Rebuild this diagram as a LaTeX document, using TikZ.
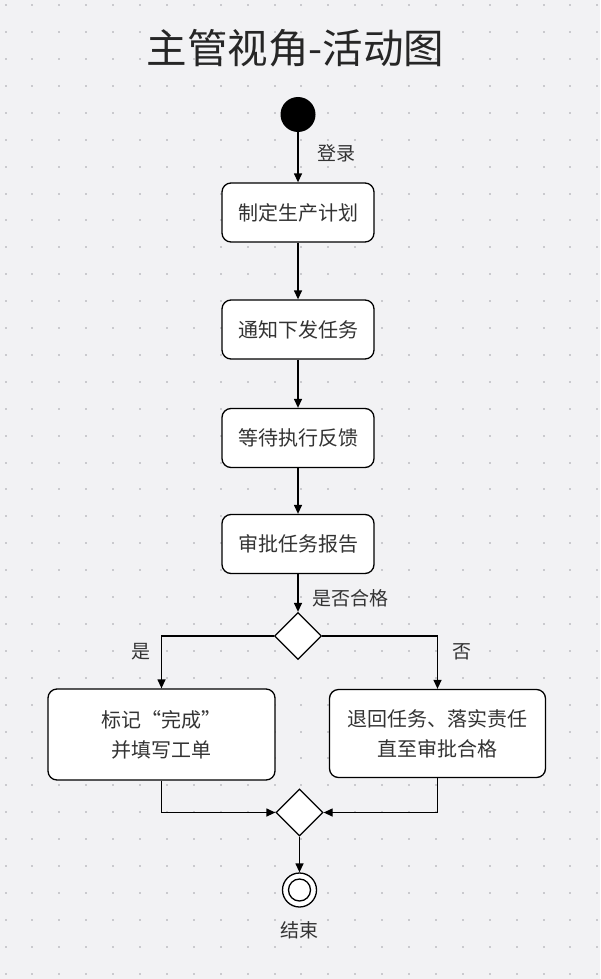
\documentclass[tikz,border=0pt]{standalone}
\usepackage{fontspec}
\setmainfont{Noto Sans CJK SC}
\usetikzlibrary{arrows.meta}
\usetikzlibrary{shapes.geometric}
\definecolor{bgray}{HTML}{F2F2F4}
\definecolor{dotgray}{HTML}{CACACE}
\definecolor{txt}{HTML}{333333}
\tikzset{actbox/.style = {draw, rounded corners = 9pt, fill = white, line width = 1.3pt, minimum width = 152pt, minimum height = 59pt, inner sep = 0, text = txt, align = center, font = \fontsize{20}{30}\selectfont}}
\tikzset{decide/.style = {draw, diamond, fill = white, line width = 1.3pt, minimum width = 47pt, minimum height = 47pt, inner sep = 0}}
\tikzset{flow/.style = {line width = 1.3pt, -{Triangle[length = 9pt, width = 8pt]}}}
\tikzset{lbl/.style = {text = txt, font = \fontsize{19}{19}\selectfont}}

\begin{document}
\begin{tikzpicture}[x = 1pt, y = -1pt]
          \fill [bgray] (0, 0) rectangle (600, 979);
          \useasboundingbox (0, 0) rectangle (600, 979);
          \foreach \i in {0, ..., 22}
            \foreach \j in {0, ..., 36}
              \fill [dotgray] (4.5 + 26.9 * \i, 4.2 + 26.9 * \j) rectangle ++(2, 2);

          \node [text = black!85, font = \fontsize{40.5}{40.5}\selectfont] (title) at (295.5, 48) {主管视角-活动图};

          \node [circle, fill, minimum size = 35pt, inner sep = 0] (start) at (298, 114.5) {};
          \node [actbox] (plan) at (298, 212.5) {制定生产计划};
          \node [actbox] (notify) at (298, 329.5) {通知下发任务};
          \node [actbox] (wait) at (298, 438) {等待执行反馈};
          \node [actbox] (review) at (298, 544) {审批任务报告};
          \node [decide] (check) at (298, 636) {};
          \node [actbox, minimum width = 227pt, minimum height = 91pt] (done) at (161.5, 734.5) {标记“完成”\\并填写工单};
          \node [actbox, minimum width = 216pt, minimum height = 88pt] (redo) at (437.5, 733.5) {退回任务、落实责任\\直至审批合格};
          \node [decide] (merge) at (299.5, 812.5) {};
          \node [circle, draw, fill = white, line width = 1.3pt, minimum size = 34pt, inner sep = 0] (stop) at (299.5, 890) {};
          \node [circle, draw, line width = 1.3pt, minimum size = 22pt, inner sep = 0] (stopin) at (stop) {};

          \draw [flow] (start) -- (plan);
          \draw [flow] (plan) -- (notify);
          \draw [flow] (notify) -- (wait);
          \draw [flow] (wait) -- (review);
          \draw [flow] (review) -- (check);
          \draw [flow] (check.west) -| (done.north);
          \draw [flow] (check.east) -| (redo.north);
          \draw [flow] (done.south) |- (merge.west);
          \draw [flow] (redo.south) |- (merge.east);
          \draw [flow] (merge) -- (stop);

          \node [lbl] (login) at (336, 153) {登录};
          \node [lbl] (pass) at (350, 598) {是否合格};
          \node [lbl] (yes) at (141, 652) {是};
          \node [lbl] (no) at (462, 652) {否};
          \node [lbl] (finish) at (299.5, 930) {结束};
        \end{tikzpicture}
\end{document}
